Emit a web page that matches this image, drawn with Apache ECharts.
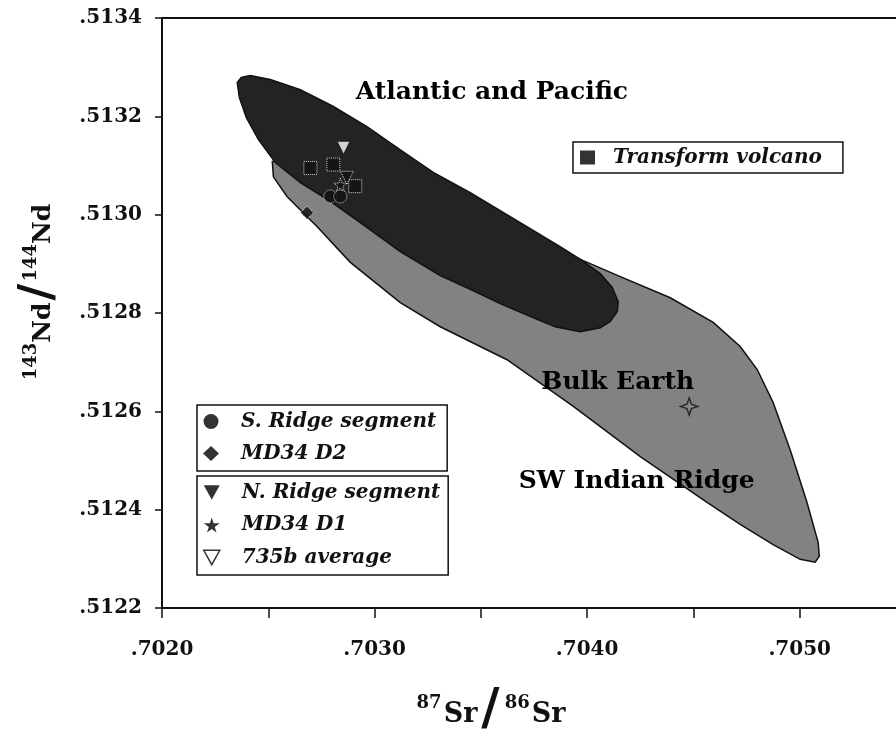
<!DOCTYPE html>
<html><head><meta charset="utf-8">
<script src="https://cdn.jsdelivr.net/npm/echarts@6/dist/echarts.min.js"></script>
<style>html,body{margin:0;padding:0;background:#fff}#c{width:896px;height:732px}</style>
</head><body><div id="c"></div>
<script>
// Axis ranges [min, max, tick step]
const xRange = [0.7020, 0.7055, 0.0005];
const yRange = [0.5122, 0.5134, 0.0002];

// Field outlines (87Sr/86Sr, 143Nd/144Nd)
const atlanticPacificField = [
  [0.702354,0.513269],[0.702373,0.513279],[0.702415,0.513283],[0.702509,0.513275],
  [0.702651,0.513254],[0.702806,0.513220],[0.702964,0.513179],[0.703121,0.513132],
  [0.703276,0.513086],[0.703450,0.513045],[0.703685,0.512984],[0.703873,0.512935],
  [0.703968,0.512909],[0.704062,0.512880],[0.704118,0.512852],[0.704146,0.512823],
  [0.704142,0.512803],[0.704109,0.512783],[0.704062,0.512770],[0.703968,0.512762],
  [0.703850,0.512772],[0.703764,0.512787],[0.703591,0.512819],[0.703450,0.512848],
  [0.703309,0.512876],[0.703121,0.512925],[0.702933,0.512984],[0.702792,0.513027],
  [0.702651,0.513065],[0.702533,0.513106],[0.702453,0.513153],[0.702397,0.513197],
  [0.702364,0.513238]
];
const swIndianRidgeField = [
  [0.702519,0.513108],[0.702603,0.513112],[0.702792,0.513092],[0.703215,0.513031],
  [0.703591,0.512970],[0.703873,0.512925],[0.703968,0.512909],[0.704156,0.512874],
  [0.704391,0.512831],[0.704593,0.512781],[0.704720,0.512732],[0.704800,0.512685],
  [0.704875,0.512618],[0.704955,0.512522],[0.705034,0.512415],[0.705087,0.512333],
  [0.705092,0.512305],[0.705073,0.512293],[0.705002,0.512299],[0.704875,0.512329],
  [0.704720,0.512370],[0.704564,0.512415],[0.704250,0.512508],[0.703935,0.512610],
  [0.703623,0.512705],[0.703309,0.512772],[0.703121,0.512821],[0.702886,0.512903],
  [0.702729,0.512976],[0.702588,0.513037],[0.702524,0.513077]
];

// Samples
const transformVolcano = [[0.702698,0.513095],[0.702806,0.513102],[0.702909,0.513058]];
const sRidgeSegment = [[0.702792,0.513037],[0.702839,0.513037]];
const md34D2 = [[0.702682,0.513004]];
const nRidgeSegment = [[0.702870,0.513075]];
const md34D1 = [[0.702839,0.513061]];
const avg735b = [[0.702854,0.513136]];
const bulkEarth = [[0.70448,0.51261]];

// Field labels [x, y, text]
const fieldLabels = [
  [0.703552,0.513248,'Atlantic and Pacific'],
  [0.704144,0.512659,'Bulk Earth'],
  [0.704233,0.512458,'SW Indian Ridge']
];

const FONT = 'DejaVu Serif';
const INK = '#111';
const triDown = 'path://M0,0 L10,0 L5,9 Z';
const star = 'path://M50,0 L61,35 L98,35 L68,57 L79,91 L50,70 L21,91 L32,57 L2,35 L39,35 Z';
const sparkle = 'path://M0,-10 L2.6,-2.6 L10,0 L2.6,2.6 L0,10 L-2.6,2.6 L-10,0 L-2.6,-2.6 Z';

function fieldSeries(name, pts, fill, z) {
  return {
    type: 'custom', name: name, data: [pts[0]], silent: true, z: z,
    renderItem: function (params, api) {
      return { type: 'polygon', shape: { points: pts.map(function (p) { return api.coord(p); }) },
        style: { fill: fill, stroke: INK, lineWidth: 1.5 } };
    }
  };
}
function sampleSeries(name, data, symbol, size, color, border) {
  return {
    type: 'scatter', name: name, data: data, symbol: symbol, symbolSize: size, z: 6,
    itemStyle: border ? { color: color, borderColor: border.c, borderWidth: border.w, borderType: border.t }
                      : { color: color }
  };
}
const dotted = { c: '#fff', w: 1, t: 'dotted' };
const solidIcon = { color: '#000', borderWidth: 0 };
const legendText = { fontFamily: FONT, fontStyle: 'italic', fontWeight: 'bold', fontSize: 20, color: INK, lineHeight: 25 };
const supStyle = { fontFamily: FONT, fontWeight: 'bold', fontSize: 18, color: INK, verticalAlign: 'top', lineHeight: 20 };

const chart = echarts.init(document.getElementById('c'), null, { renderer: 'canvas' });
chart.setOption({
  animation: false,
  backgroundColor: '#fff',
  grid: { left: 162, top: 18, width: 744, height: 590, outerBoundsMode: 'none', containLabel: false,
          show: true, borderColor: INK, borderWidth: 2 },
  xAxis: {
    type: 'value', min: xRange[0], max: xRange[1], interval: xRange[2],
    axisLine: { lineStyle: { color: INK, width: 2 } },
    axisTick: { length: 10, lineStyle: { color: INK, width: 1.5 } },
    splitLine: { show: false },
    axisLabel: {
      margin: 32, fontFamily: FONT, fontWeight: 'bold', fontSize: 20, color: INK,
      formatter: function (v) { const k = Math.round(v * 10000); return k % 10 === 0 ? '.' + String(k) : ''; }
    },
    name: '{sup|87}{b|Sr}{sl|/}{sup|86}{b|Sr}',
    nameLocation: 'middle', nameGap: 86,
    nameTextStyle: {
      padding: [0, 86, 0, 0],
      rich: {
        sup: supStyle,
        b: { fontFamily: FONT, fontWeight: 'bold', fontSize: 27, color: INK, verticalAlign: 'bottom', lineHeight: 30, padding: [0, 0, 0, 2] },
        sl: { fontFamily: FONT, fontWeight: 'bold', fontSize: 50, color: INK, verticalAlign: 'middle', lineHeight: 34, padding: [0, 5, 0, 4] }
      }
    }
  },
  yAxis: {
    type: 'value', min: yRange[0], max: yRange[1], interval: yRange[2],
    axisLine: { lineStyle: { color: INK, width: 2 } },
    axisTick: { length: 7, lineStyle: { color: INK, width: 1.5 } },
    splitLine: { show: false },
    axisLabel: {
      margin: 20, fontFamily: FONT, fontWeight: 'bold', fontSize: 20, color: INK,
      formatter: function (v) { return '.' + String(Math.round(v * 10000)); }
    },
    name: '{sup|143}{b|Nd}{sl|/}{sup|144}{b|Nd}',
    nameLocation: 'middle', nameGap: 106, nameRotate: 90,
    nameTextStyle: {
      padding: [0, 0, 0, 42],
      rich: {
        sup: supStyle,
        b: { fontFamily: FONT, fontWeight: 'bold', fontSize: 25, color: INK, verticalAlign: 'bottom', lineHeight: 30 },
        sl: { fontFamily: FONT, fontWeight: 'bold', fontSize: 46, color: INK, verticalAlign: 'middle', lineHeight: 34, padding: [0, 2, 0, 2] }
      }
    }
  },
  legend: [
    {
      data: [{ name: 'S. Ridge segment', icon: 'circle', itemStyle: solidIcon },
             { name: 'MD34 D2', icon: 'diamond', itemStyle: solidIcon }],
      orient: 'vertical', left: 197, top: 405, padding: [4, 11, 5, 6], itemGap: 7,
      itemWidth: 16, itemHeight: 15, selectedMode: false,
      borderColor: INK, borderWidth: 1.5, backgroundColor: '#fff', borderRadius: 0,
      textStyle: Object.assign({ padding: [0, 0, 0, 17] }, legendText)
    },
    {
      data: [{ name: 'N. Ridge segment', icon: triDown, itemStyle: solidIcon },
             { name: 'MD34 D1', icon: star, itemStyle: solidIcon },
             { name: '735b average', icon: triDown, itemStyle: { color: '#fff', borderColor: '#000', borderWidth: 1.5 } }],
      orient: 'vertical', left: 197, top: 476, padding: [4, 8, 5, 6], itemGap: 7.5,
      itemWidth: 16, itemHeight: 15, selectedMode: false,
      borderColor: INK, borderWidth: 1.5, backgroundColor: '#fff', borderRadius: 0,
      textStyle: Object.assign({ padding: [0, 0, 0, 17] }, legendText)
    },
    {
      data: [{ name: 'Transform volcano', icon: 'rect', itemStyle: solidIcon }],
      orient: 'vertical', left: 573, top: 142, padding: [3, 21, 3, 7],
      itemWidth: 15, itemHeight: 14, selectedMode: false,
      borderColor: INK, borderWidth: 1.5, backgroundColor: '#fff', borderRadius: 0,
      textStyle: Object.assign({ padding: [0, 0, 0, 13] }, legendText)
    }
  ],
  series: [
    fieldSeries('SW Indian Ridge field', swIndianRidgeField, '#828282', 1),
    fieldSeries('Atlantic and Pacific field', atlanticPacificField, '#232323', 2),
    {
      type: 'scatter', name: 'field labels', data: fieldLabels, symbol: 'circle', symbolSize: 0.1, z: 5, silent: true,
      itemStyle: { color: 'transparent' },
      label: { show: true, position: 'inside', formatter: function (p) { return p.value[2]; },
        fontFamily: FONT, fontWeight: 'bold', fontSize: 25, color: '#000', opacity: 1, textBorderWidth: 0 }
    },
    sampleSeries('Transform volcano', transformVolcano, 'rect', 13, '#111', dotted),
    sampleSeries('S. Ridge segment', sRidgeSegment, 'circle', 13, '#111', dotted),
    sampleSeries('MD34 D2', md34D2, 'diamond', 13, '#111', dotted),
    sampleSeries('N. Ridge segment', nRidgeSegment, triDown, 13, '#111', dotted),
    sampleSeries('MD34 D1', md34D1, star, 13, '#111', dotted),
    sampleSeries('735b average', avg735b, triDown, 13, '#ffffff', { c: '#111', w: 1, t: 'solid' }),
    sampleSeries('Bulk Earth', bulkEarth, sparkle, 17, '#8a8a8a', { c: '#111', w: 1.5, t: 'solid' })
  ]
});
</script>
</body></html>
